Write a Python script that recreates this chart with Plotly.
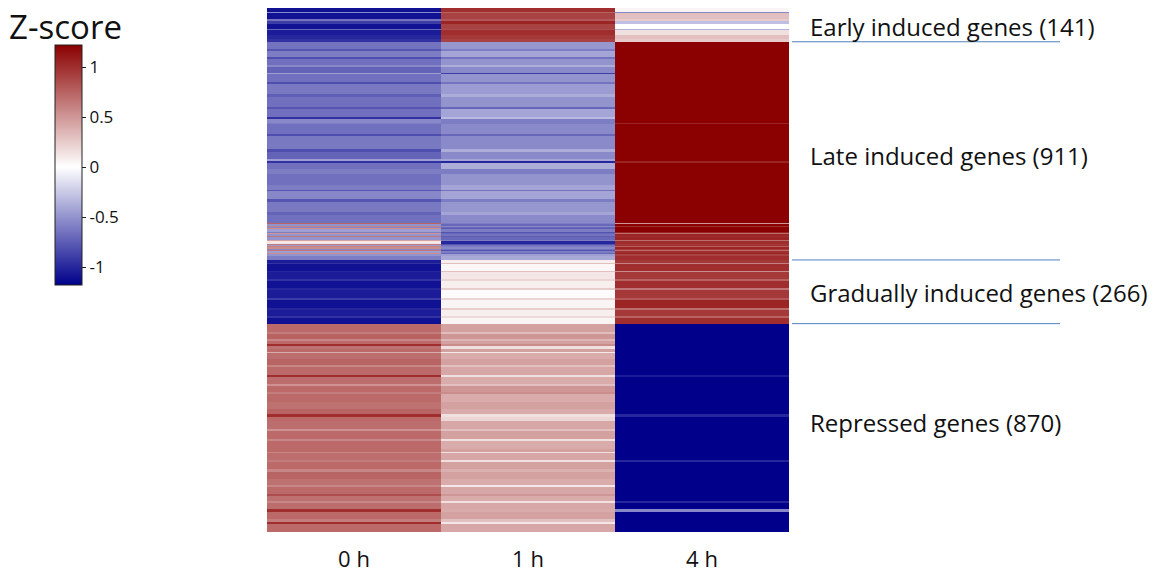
import numpy as np
import plotly.graph_objects as go

# ---------------- data ----------------
time_points = ["0 h", "1 h", "4 h"]
cluster_names = ["Early induced genes", "Late induced genes",
                 "Gradually induced genes", "Repressed genes"]
cluster_sizes = [141, 911, 266, 870]

# Each cluster is described as bands of consecutive genes (top to bottom)
# with the z-score of the band at 0 h, 1 h and 4 h.
early_rows = [16, 4, 28, 8, 12, 20, 4, 20, 16, 13]
early_0h = [-1.1, -0.55, -1.1, -0.65, -0.9, -1.1, -0.7, -1.05, -1.0, -0.95]
early_1h = [1.0, 0.75, 0.9, 0.8, 1.05, 0.9, 0.85, 1.0, 0.95, 0.9]
early_4h = [0.05, -0.55, 0.3, 0.25, -0.3, 0.0, -0.35, 0.15, 0.3, 0.25]

late_rows = [29, 8, 25, 8, 29, 8, 25, 4, 33, 8, 40, 12, 44, 8, 33, 8, 17, 4,
             42, 8, 56, 12, 29, 8, 8, 25, 21, 44, 21, 8, 33, 12, 40, 12, 33,
             4, 12, 4, 4, 4, 12, 4, 4, 8, 4, 12, 4, 12, 4, 4, 4, 4, 8, 4, 4,
             8, 4, 8, 16]
late_0h = [-0.65, -0.78, -0.6, -0.82, -0.66, -0.55, -0.72, -0.45, -0.66, -0.82,
           -0.62, -0.74, -0.66, -0.78, -0.66, -0.95, -0.55, -0.6, -0.66, -0.82,
           -0.62, -0.82, -0.72, -0.45, -0.95, -0.66, -0.6, -0.66, -0.6, -0.78,
           -0.55, -0.78, -0.62, -0.72, -0.66,
           0.75, -0.5, 0.6, -0.55, 0.55, -0.45, -0.6, 0.5, -0.5, 0.65,
           -0.5, 0.45, 0.12, 0.65, -0.45, 0.6, -0.5, 0.55, -0.55, 0.65,
           -0.45, 0.55, -0.5, -0.6]
late_1h = [-0.48, -0.6, -0.42, -0.65, -0.5, -0.38, -0.54, -0.9, -0.5, -0.65,
           -0.46, -0.38, -0.5, -0.7, -0.42, -0.32, -0.6, -0.6, -0.54, -0.7,
           -0.54, -0.38, -0.54, -0.42, -1.0, -0.38, -0.6, -0.5, -0.42, -0.65,
           -0.42, -0.6, -0.48, -0.42, -0.54,
           -0.6, -0.7, -0.55, -0.7, -0.75, -0.6, -0.8, -0.7, -0.65, -0.75,
           -0.7, -0.6, -1.0, -0.8, -0.65, -0.6, -0.7, -0.55, -0.65, -0.8,
           -0.6, -0.7, -0.45, -0.4]
late_4h = [1.3, 1.3, 1.3, 1.3, 1.3, 1.3, 1.3, 1.3, 1.3, 1.3,
           1.3, 1.3, 1.3, 1.3, 1.3, 1.3, 1.3, 1.05, 1.3, 1.3,
           1.3, 1.3, 1.3, 1.3, 1.05, 1.3, 1.3, 1.3, 1.3, 1.3,
           1.3, 1.3, 1.3, 1.3, 1.3,
           0.5, 1.3, 1.0, 1.3, 1.25, 1.25, 1.05, 0.7, 1.05, 1.0,
           1.05, 0.7, 1.0, 0.95, 1.0, 0.75, 1.0, 1.05, 0.95, 0.7,
           1.0, 1.05, 0.9, 1.0]

grad_rows = [12, 4, 29, 4, 29, 8, 33, 8, 33, 8, 33, 8, 25, 8, 24]
grad_0h = [-1.05, -0.95, -1.1, -1.0, -1.05, -0.95, -1.1, -1.0, -1.05, -0.9,
           -1.1, -1.0, -1.05, -0.95, -1.1]
grad_1h = [0.08, 0.3, 0.04, 0.3, 0.12, 0.2, 0.08, 0.24, 0.02, 0.2,
           0.05, 0.24, 0.08, 0.18, 0.05]
grad_4h = [0.95, 0.6, 1.0, 0.55, 0.95, 0.75, 1.0, 0.65, 0.95, 0.8,
           1.05, 0.7, 0.95, 0.75, 1.0]

rep_rows = [34, 8, 21, 8, 13, 8, 13, 13, 4, 25, 25, 8, 34, 8, 29, 8, 25, 8,
            34, 29, 21, 13, 17, 34, 8, 34, 8, 34, 13, 4, 29, 8, 29, 13, 29,
            25, 8, 29, 8, 21, 8, 25, 13, 29, 13, 8, 34]
rep_0h = [0.72, 0.62, 0.75, 0.58, 0.72, 1.0, 0.68, 0.72, 0.4, 0.7,
          0.74, 0.58, 0.72, 1.0, 0.7, 0.52, 0.72, 0.62, 0.72, 0.68,
          0.74, 1.0, 0.72, 0.7, 0.52, 0.72, 0.58, 0.72, 0.72, 0.58,
          0.7, 0.62, 0.72, 0.58, 0.74, 0.68, 0.58, 0.72, 0.85, 0.68,
          0.58, 0.7, 1.0, 0.72, 0.62, 1.0, 0.72]
rep_1h = [0.45, 0.32, 0.5, 0.35, 0.45, 0.55, 0.15, 0.45, 0.1, 0.4,
          0.45, 0.3, 0.42, 0.15, 0.4, 0.3, 0.5, 0.55, 0.4, 0.45,
          0.4, 0.15, 0.2, 0.42, 0.3, 0.45, 0.15, 0.4, 0.45, 0.15,
          0.42, 0.15, 0.45, 0.38, 0.45, 0.4, 0.12, 0.42, 0.5, 0.4,
          0.15, 0.42, 0.4, 0.45, 0.3, 0.12, 0.42]
rep_4h = [-1.25, -1.25, -1.25, -1.25, -1.25, -1.25, -1.25, -1.25, -1.25, -1.25,
          -1.25, -1.25, -1.25, -1.05, -1.25, -1.25, -1.25, -1.25, -1.25, -1.25,
          -1.25, -1.0, -1.25, -1.25, -1.25, -1.25, -1.25, -1.25, -1.25, -1.25,
          -1.25, -1.0, -1.25, -1.25, -1.25, -1.25, -1.25, -1.25, -1.25, -1.25,
          -1.0, -1.25, -0.55, -1.25, -1.25, -1.25, -1.25]

colorbar_ticks = [-1, -0.5, 0, 0.5, 1]
colorbar_ticktext = ["-1", "-0.5", "0", "0.5", "1"]

# ---------------- build matrix ----------------
clusters = [
    (early_rows, early_0h, early_1h, early_4h),
    (late_rows, late_0h, late_1h, late_4h),
    (grad_rows, grad_0h, grad_1h, grad_4h),
    (rep_rows, rep_0h, rep_1h, rep_4h),
]
z_rows = []
for rows, c0, c1, c4 in clusters:
    for n, a, b, c in zip(rows, c0, c1, c4):
        z_rows.extend([[a, b, c]] * n)
z = np.array(z_rows)
n_genes = len(z)

zmin, zmax = -1.18, 1.22
white_pos = (0 - zmin) / (zmax - zmin)
colorscale = [[0.0, "#00008B"], [white_pos, "#FFFFFF"], [1.0, "#8B0000"]]

W, H = 1161, 575
ml, mr, mt, mb = 267, 372, 8, 43
pw, ph = W - ml - mr, H - mt - mb
FONT = "Open Sans, Lato, sans-serif"

fig = go.Figure()
fig.add_trace(go.Heatmap(
    z=z, x=time_points, y=np.arange(n_genes),
    zmin=zmin, zmax=zmax, colorscale=colorscale, zsmooth=False,
    colorbar=dict(
        x=(55 - ml) / pw, xanchor="left",
        y=1 - (45 - mt) / ph, yanchor="top",
        len=240, lenmode="pixels", thickness=27,
        xpad=0, ypad=0,
        outlinewidth=1, outlinecolor="#222222",
        tickmode="array", tickvals=colorbar_ticks, ticktext=colorbar_ticktext,
        ticks="outside", ticklen=4, tickcolor="#222222",
        tickfont=dict(family=FONT, size=17, color="#111111"),
    ),
))

# cluster boundary lines and labels
bounds = np.cumsum(cluster_sizes)
x0p = (792 - ml) / pw
x1p = (1060 - ml) / pw
xlab = (808 - ml) / pw
for b in [bounds[0], bounds[1], bounds[2]]:
    fig.add_shape(type="line", xref="paper", yref="y", x0=x0p, x1=x1p,
                  y0=b - 0.5, y1=b - 0.5, line=dict(color="#4F81BD", width=1))

starts = np.concatenate([[0], bounds[:-1]])
yshifts = [-1, -5, -1, 5]
for name, size, s, ys in zip(cluster_names, cluster_sizes, starts, yshifts):
    fig.add_annotation(xref="paper", yref="y", x=xlab, y=s + size / 2,
                       text=f"{name} ({size})", showarrow=False,
                       xanchor="left", yanchor="middle", yshift=ys,
                       font=dict(family=FONT, size=24, color="#111111"))

fig.add_annotation(xref="paper", yref="paper",
                   x=(7 - ml) / pw, y=1 - (26 - mt) / ph,
                   text="Z-score", showarrow=False, xanchor="left", yanchor="middle",
                   font=dict(family=FONT, size=33, color="#111111"))

fig.update_xaxes(showgrid=False, zeroline=False, showline=False,
                 ticks="outside", ticklen=8, tickcolor="rgba(0,0,0,0)",
                 tickfont=dict(family=FONT, size=22, color="#111111"))
fig.update_yaxes(showgrid=False, zeroline=False, showline=False, showticklabels=False,
                 range=[n_genes - 0.5, -0.5])

fig.update_layout(width=W, height=H,
                  margin=dict(l=ml, r=mr, t=mt, b=mb, autoexpand=False),
                  paper_bgcolor="white", plot_bgcolor="white", showlegend=False)

fig.write_html("out.html", config={"displayModeBar": False},
               post_script="document.body.style.margin='0';document.body.style.overflow='hidden';")
